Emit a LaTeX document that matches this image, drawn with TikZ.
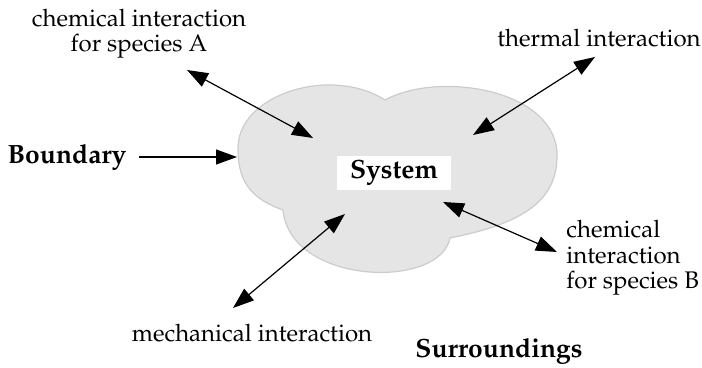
\documentclass[tikz,border=0pt]{standalone}
\usepackage[T1]{fontenc}
\usepackage{mathpazo}
\usepackage{tikz}
\usetikzlibrary{arrows.meta}

\tikzset{
	lbl/.style={font=\fontsize{12}{12.7}\selectfont, align=center, inner sep=0pt},
	blbl/.style={font=\fontsize{13.2}{14}\selectfont\bfseries, inner sep=0pt},
	xchg/.style={{Triangle[length=10.5pt,width=7.5pt]}-{Triangle[length=10.5pt,width=7.5pt]}, line width=0.6pt},
	onto/.style={-{Triangle[length=10.5pt,width=7.5pt]}, line width=0.6pt}
}

\begin{document}
\begin{tikzpicture}[x=0.5pt,y=-0.5pt]
	\useasboundingbox (0,0) rectangle (702,368);

	% the system
	\draw[fill=black!10, draw=black!20, line width=0.6pt]
		(238,150) .. controls (236,95) and (330,65) .. (385,100)
		.. controls (440,70) and (560,90) .. (557,158)
		.. controls (556,205) and (515,225) .. (450,238)
		.. controls (440,290) and (290,285) .. (283,210)
		.. controls (255,200) and (238,185) .. (238,150) -- cycle;
	\node[blbl, fill=white, minimum width=57pt, minimum height=17pt] (sys) at (394,173) {System};

	% labels
	\node[lbl] (chemA) at (139,34) {chemical interaction\\for species A};
	\node[lbl] (therm) at (599,38) {thermal interaction};
	\node[lbl, align=left, anchor=west] (chemB) at (566,258) {chemical\\interaction\\for species B};
	\node[lbl] (mech) at (252,333) {mechanical interaction};
	\node[blbl] (bound) at (67,157) {Boundary};
	\node[blbl] (surr) at (499,351) {Surroundings};

	% arrow ends
	\coordinate (a1) at (187,70);   \coordinate (a2) at (313,138);
	\coordinate (t1) at (595,57);   \coordinate (t2) at (473,135);
	\coordinate (b1) at (443,202);  \coordinate (b2) at (557,252);
	\coordinate (m1) at (233,308);  \coordinate (m2) at (345,214);
	\coordinate (edge) at (237,157);

	\draw[xchg] (a1) -- (a2);
	\draw[xchg] (t1) -- (t2);
	\draw[xchg] (b1) -- (b2);
	\draw[xchg] (m1) -- (m2);
	\draw[onto] (bound.east) ++(6pt,0) -- (edge);
\end{tikzpicture}
\end{document}
